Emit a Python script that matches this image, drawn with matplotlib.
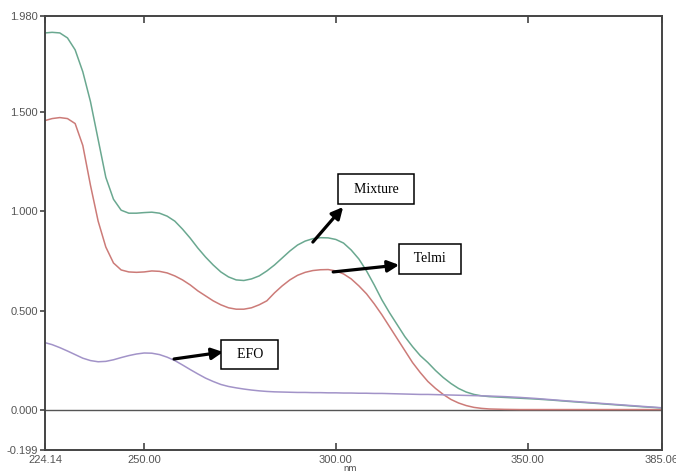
import matplotlib
matplotlib.use("Agg")
import matplotlib.pyplot as plt

wavelength = [224.14,
              226, 228, 230, 232, 234, 236, 238,
              240, 242, 244, 246, 248, 250, 252,
              254, 256, 258, 260, 262, 264, 266,
              268, 270, 272, 274, 276, 278, 280,
              282, 284, 286, 288, 290, 292, 294,
              296, 298, 300, 302, 304, 306, 308,
              310, 312, 314, 316, 318, 320, 322,
              324, 326, 328, 330, 332, 334, 336,
              338, 340,
              344, 348, 352, 356, 360,
              365, 370, 375, 380, 385.06]

mixture = [1.895,
           1.898, 1.895, 1.87, 1.81, 1.70, 1.55, 1.36,
           1.17, 1.06, 1.005, 0.99, 0.99, 0.993, 0.995,
           0.99, 0.975, 0.95, 0.91, 0.865, 0.815, 0.77,
           0.73, 0.695, 0.67, 0.655, 0.652, 0.66, 0.675,
           0.70, 0.73, 0.765, 0.80, 0.83, 0.85, 0.862,
           0.867, 0.866, 0.858, 0.84, 0.805, 0.76, 0.70,
           0.63, 0.555, 0.49, 0.43, 0.37, 0.32, 0.275,
           0.24, 0.20, 0.165, 0.135, 0.11, 0.092, 0.08,
           0.073, 0.069,
           0.065, 0.061, 0.057, 0.052, 0.046,
           0.039, 0.032, 0.025, 0.018, 0.012]

telmi = [1.455,
         1.465, 1.47, 1.465, 1.44, 1.33, 1.13, 0.95,
         0.82, 0.74, 0.705, 0.695, 0.693, 0.695, 0.70,
         0.698, 0.69, 0.675, 0.655, 0.63, 0.60, 0.575,
         0.55, 0.53, 0.515, 0.508, 0.508, 0.515, 0.53,
         0.55, 0.59, 0.625, 0.655, 0.678, 0.693, 0.702,
         0.706, 0.707, 0.70, 0.685, 0.66, 0.625, 0.585,
         0.535, 0.48, 0.42, 0.36, 0.30, 0.24, 0.19,
         0.145, 0.11, 0.08, 0.055, 0.037, 0.024, 0.015,
         0.01, 0.007,
         0.005, 0.004, 0.004, 0.004, 0.004,
         0.004, 0.004, 0.004, 0.004, 0.004]

efo = [0.34,
       0.33, 0.315, 0.298, 0.28, 0.262, 0.25, 0.244,
       0.246, 0.254, 0.265, 0.275, 0.283, 0.288, 0.287,
       0.28, 0.267, 0.25, 0.228, 0.205, 0.183, 0.162,
       0.145, 0.13, 0.12, 0.113, 0.107, 0.102, 0.098,
       0.095, 0.093, 0.092, 0.091, 0.09, 0.09, 0.089,
       0.089, 0.088, 0.088, 0.087, 0.087, 0.086, 0.086,
       0.085, 0.085, 0.084, 0.083, 0.082, 0.081, 0.08,
       0.08, 0.079, 0.078, 0.077, 0.076, 0.075, 0.074,
       0.073, 0.072,
       0.069, 0.065, 0.06, 0.054, 0.048,
       0.041, 0.034, 0.027, 0.02, 0.013]

x_ticks = [224.14, 250, 300, 350, 385.06]
x_tick_labels = ["224.14", "250.00", "300.00", "350.00", "385.06"]
y_ticks = [-0.199, 0.0, 0.5, 1.0, 1.5, 1.98]
y_tick_labels = ["-0.199", "0.000", "0.500", "1.000", "1.500", "1.980"]

fig = plt.figure(figsize=(6.76, 4.71), dpi=100)
ax = fig.add_axes([45 / 676, 21 / 471, 617 / 676, 434 / 471])

ax.plot(wavelength, telmi, color="#cc7b78", lw=1.1)
ax.plot(wavelength, mixture, color="#6aa890", lw=1.1)
ax.plot(wavelength, efo, color="#a293c8", lw=1.1)
ax.axhline(0, color="#555555", lw=1.0, zorder=1)

ax.set_xlim(224.14, 385.06)
ax.set_ylim(-0.199, 1.98)

for s in ax.spines.values():
    s.set_color("#444444")
    s.set_linewidth(1.4)

ax.set_xticks(x_ticks)
ax.set_xticklabels(x_tick_labels, fontfamily="Liberation Sans", fontsize=8, color="#555555")
ax.set_yticks(y_ticks)
ax.set_yticklabels(y_tick_labels, fontfamily="Liberation Sans", fontsize=8, color="#555555")
ax.tick_params(axis="x", direction="in", top=True, length=5, width=1.2, color="#444444", pad=3.5)
ax.tick_params(axis="y", direction="out", length=3.5, width=1.2, color="#444444", pad=1.5)

fig.text(350 / 676, 2 / 471, "nm", fontsize=7, fontfamily="Liberation Sans",
         color="#555555", ha="center", va="center")

box = dict(boxstyle="square,pad=0.6", fc="white", ec="black", lw=1.1)
arrow = dict(arrowstyle="-|>", color="black", lw=2.3, mutation_scale=17,
             shrinkA=0, shrinkB=0)

labels = [("Mixture", (310.5, 1.11), (294.0, 0.845), (301.9, 1.021)),
          ("Telmi", (324.6, 0.76), (299.3, 0.695), (316.5, 0.730)),
          ("EFO", (277.6, 0.28), (257.8, 0.258), (270.6, 0.293))]
for text, pos, tail, head in labels:
    ax.annotate("", xy=head, xytext=tail, arrowprops=arrow, zorder=5)
    ax.text(pos[0], pos[1], "  " + text + "  ", fontfamily="Liberation Serif", fontsize=10,
            ha="center", va="center", bbox=box, zorder=6)

fig.savefig("out.png", dpi=100)
